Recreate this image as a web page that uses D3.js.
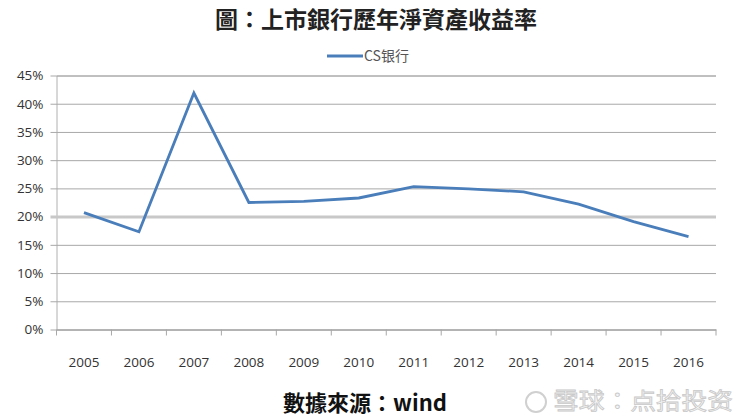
<!DOCTYPE html>
<html><head><meta charset="utf-8">
<script src="https://cdn.jsdelivr.net/npm/d3@7"></script>
<style>body{margin:0;background:#fff}svg{display:block}</style>
</head><body>
<svg id="c" width="751" height="417"></svg>
<script>
const years = ["2005","2006","2007","2008","2009","2010","2011","2012","2013","2014","2015","2016"];
const roe = [20.7, 17.3, 41.9, 22.5, 22.7, 23.3, 25.3, 24.9, 24.4, 22.2, 19.1, 16.45];
const yTicks = [0,5,10,15,20,25,30,35,40,45];
const seriesName = "CS银行";
const titleText = "圖：上市銀行歷年淨資產收益率";
const sourceText = "數據來源：wind";
const watermark = "雪球：点拾投资";

const svg = d3.select("#c");
const L = 56.5, R = 716, T = 75.5, B = 329.5;
const x = d3.scaleBand().domain(years).range([L, R]);
const y = d3.scaleLinear().domain([0,45]).range([B, T]);
const cjk = "'Noto Sans CJK TC','Noto Sans CJK SC',sans-serif";
const lat = "'Open Sans','Liberation Sans',sans-serif";

svg.append("text").attr("x", 376).attr("y", 28).attr("text-anchor","middle")
  .attr("font-family", cjk).attr("font-weight","bold").attr("font-size",23).attr("fill","#222")
  .text(titleText);

// legend
svg.append("line").attr("x1",327).attr("x2",363).attr("y1",56).attr("y2",56)
  .attr("stroke","#4a7ebb").attr("stroke-width",3);
svg.append("text").attr("x",364).attr("y",61).attr("font-family",cjk).attr("font-size",14)
  .attr("fill","#555").text(seriesName);

// gridlines
const yAxis = d3.axisLeft(y).tickValues(yTicks).tickSize(-(R-L)).tickFormat(d=>d+"%");
const gy = svg.append("g").attr("transform",`translate(${L},0)`).call(yAxis);
gy.select(".domain").attr("stroke","#b0b0b0");
gy.selectAll(".tick line").attr("stroke", d=> d===20 ? "#c8c8c8" : "#a8a8a8")
  .attr("stroke-width", d=> d===20 ? 3 : 1).attr("x1",-6);
gy.selectAll(".tick text").attr("x",-13).attr("font-family",lat).attr("font-size",13.5).attr("fill","#333");

// x axis
const xAxis = d3.axisBottom(x).tickSize(0).tickFormat(d=>d);
const gx = svg.append("g").attr("transform",`translate(0,${B})`).call(xAxis);
gx.select(".domain").attr("stroke","#a8a8a8");
gx.selectAll(".tick text").attr("y",28).attr("font-family",lat).attr("font-size",13.5).attr("fill","#333");
const edges = years.map(d=>x(d)).concat([R]);
svg.append("g").selectAll("line").data(edges).join("line")
  .attr("x1",d=>d).attr("x2",d=>d).attr("y1",B).attr("y2",B+6).attr("stroke","#a8a8a8");

// line
const line = d3.line().x((d,i)=>x(years[i])+x.bandwidth()/2).y(d=>y(d));
svg.append("path").datum(roe).attr("d",line).attr("fill","none")
  .attr("stroke","#4a7ebb").attr("stroke-width",2.8).attr("stroke-linejoin","miter");

// source
svg.append("text").attr("x",283).attr("y",411).attr("font-family",cjk).attr("font-weight","bold")
  .attr("font-size",22).attr("fill","#111").text(sourceText);

// watermark
const wm = svg.append("g");
wm.append("circle").attr("cx",536).attr("cy",402).attr("r",10).attr("fill","none").attr("stroke","#d0d0d0").attr("stroke-width",2);
wm.append("text").attr("x",553).attr("y",409).attr("font-family",cjk).attr("font-size",23)
  .attr("textLength",180).attr("lengthAdjust","spacingAndGlyphs")
  .attr("fill","#f4f4f4").attr("stroke","#c8c8c8").attr("stroke-width",0.8).text(watermark);
</script>
</body></html>
